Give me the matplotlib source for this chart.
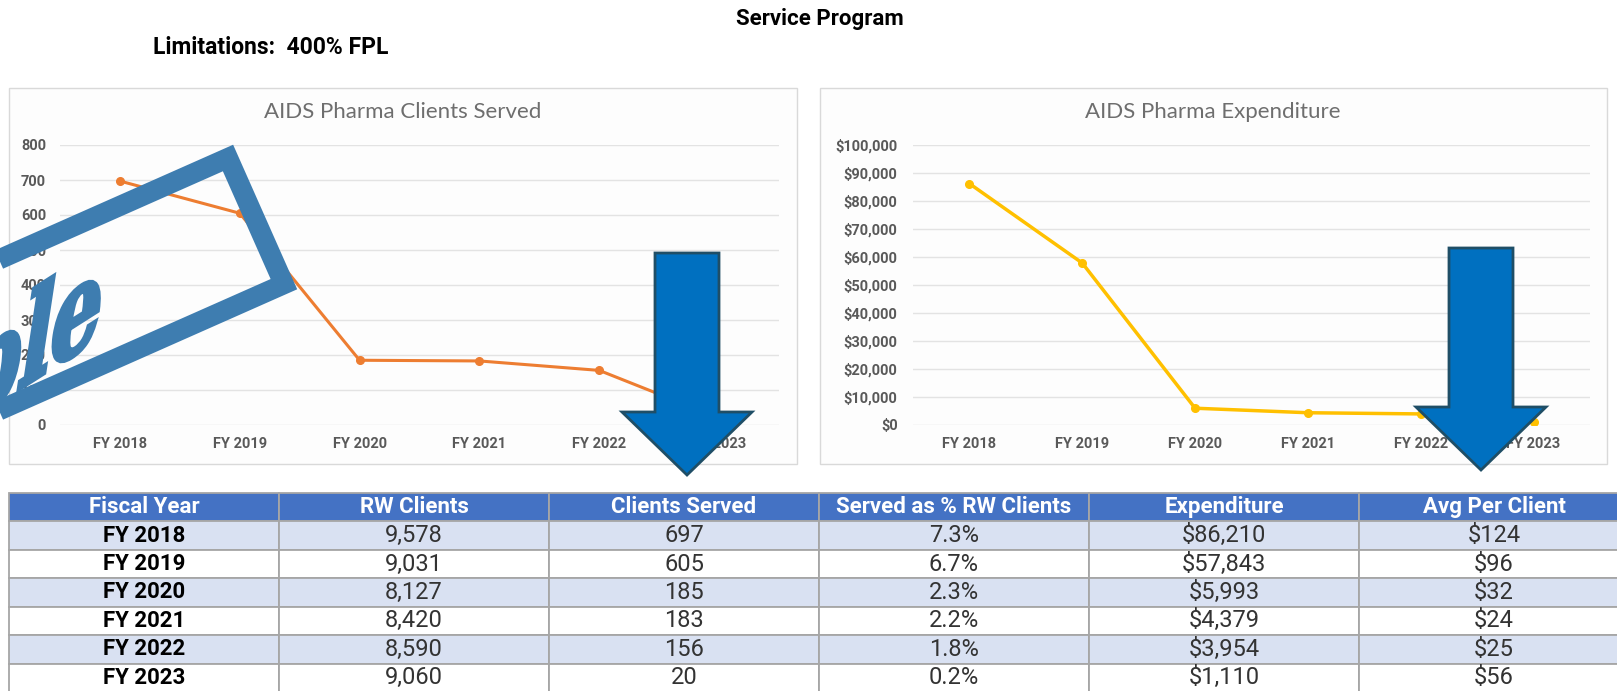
import matplotlib
matplotlib.use("Agg")
import matplotlib.pyplot as plt
from matplotlib import font_manager
from matplotlib.font_manager import FontProperties
from matplotlib.patches import Rectangle, Polygon, FancyArrow, PathPatch
from matplotlib.textpath import TextPath
from matplotlib.transforms import Affine2D
from matplotlib.ticker import FuncFormatter
import numpy as np

# Data
years = ["FY 2018", "FY 2019", "FY 2020", "FY 2021", "FY 2022", "FY 2023"]
rw_clients = [9578, 9031, 8127, 8420, 8590, 9060]
clients_served = [697, 605, 185, 183, 156, 20]
served_pct = [7.3, 6.7, 2.3, 2.2, 1.8, 0.2]
expenditure = [86210, 57843, 5993, 4379, 3954, 1110]
avg_per_client = [124, 96, 32, 24, 25, 56]
col_labels = ["Fiscal Year", "RW Clients", "Clients Served",
              "Served as % RW Clients", "Expenditure", "Avg Per Client"]

W, H = 1617, 691

names = {f.name for f in font_manager.fontManager.ttflist}


def pick(*cands):
    for c in cands:
        if c in names:
            return c
    return "DejaVu Sans"


sans = pick("Roboto", "Open Sans", "DejaVu Sans")
chartfont = pick("Lato", "Roboto", "DejaVu Sans")
stampfont = pick("DejaVu Serif", "Liberation Serif")

fig = plt.figure(figsize=(W / 100, H / 100), dpi=100)
fig.patch.set_facecolor("white")


def px_rect(x0, y0, x1, y1):
    return [x0 / W, 1 - y1 / H, (x1 - x0) / W, (y1 - y0) / H]


# Page titles
fig.text(820 / W, 1 - 19 / H, "Service Program", ha="center", va="center",
         fontsize=16, fontweight="bold", family=sans)
fig.text(153 / W, 1 - 47 / H, "Limitations:  400% FPL", ha="left", va="center",
         fontsize=16.5, fontweight="bold", family=sans)

# Chart frames
for x0, x1 in [(9, 797), (820, 1607)]:
    fig.add_artist(Rectangle((x0 / W, 1 - 464 / H), (x1 - x0) / W, (464 - 88) / H,
                             transform=fig.transFigure, facecolor="#fdfdfd",
                             edgecolor="#d9d9d9", lw=1, zorder=0))

x = np.arange(len(years))


def style_axes(ax, title, cx, ypad):
    ax.set_xlim(-0.5, len(years) - 0.5)
    ax.set_xticks(x)
    ax.set_xticklabels(years)
    ax.set_facecolor("none")
    for s in ax.spines.values():
        s.set_visible(False)
    ax.grid(axis="y", color="#e3e3e3", lw=1)
    ax.set_axisbelow(True)
    ax.tick_params(axis="both", length=0, labelsize=10.5, labelcolor="#595959")
    ax.tick_params(axis="x", pad=9)
    ax.tick_params(axis="y", pad=ypad)
    for lab in ax.get_xticklabels() + ax.get_yticklabels():
        lab.set_fontweight("bold")
        lab.set_family(sans)
    fig.text(cx / W, 1 - 112 / H, title, ha="center", va="center", fontsize=16,
             color="#6e6e6e", family=chartfont)


# Left chart: clients served
ax1 = fig.add_axes(px_rect(60, 145, 779, 425))
ax1.plot(x, clients_served, color="#ED7D31", lw=2.2, marker="o", ms=5.5, zorder=3)
ax1.set_ylim(0, 800)
ax1.set_yticks(np.arange(0, 801, 100))
style_axes(ax1, "AIDS Pharma Clients Served", 403, 10)

# Right chart: expenditure
ax2 = fig.add_axes(px_rect(913, 145, 1590, 425))
ax2.plot(x, expenditure, color="#FFC000", lw=2.5, marker="o", ms=5.5, zorder=3)
ax2.set_ylim(0, 100000)
ax2.set_yticks(np.arange(0, 100001, 10000))
ax2.yaxis.set_major_formatter(FuncFormatter(lambda v, p: f"${v:,.0f}"))
style_axes(ax2, "AIDS Pharma Expenditure", 1213, 11)

# Table
tax = fig.add_axes(px_rect(9, 493, 1629, 692))
tax.axis("off")
cell_text = [[yr, f"{r:,}", f"{c:,}", f"{p:.1f}%", f"${e:,}", f"${a:,}"]
             for yr, r, c, p, e, a in zip(years, rw_clients, clients_served,
                                          served_pct, expenditure, avg_per_client)]
tbl = tax.table(cellText=cell_text, colLabels=col_labels, cellLoc="center",
                bbox=[0, 0, 1, 1])
tbl.auto_set_font_size(False)
for (r, c), cell in tbl.get_celld().items():
    cell.set_edgecolor("#a6a6a6")
    cell.set_linewidth(1.3)
    t = cell.get_text()
    t.set_family(sans)
    if r == 0:
        cell.set_facecolor("#4472C4")
        t.set_color("white")
        t.set_fontweight("bold")
        t.set_fontsize(16)
    else:
        cell.set_facecolor("#D9E1F2" if r % 2 == 1 else "white")
        if c == 0:
            t.set_fontsize(16)
            t.set_fontweight("bold")
            t.set_color("black")
        else:
            t.set_fontsize(17)
            t.set_color("#333333")

# Overlay: sample stamp and arrows
oax = fig.add_axes([0, 0, 1, 1], zorder=10)
oax.set_xlim(0, W)
oax.set_ylim(H, 0)
oax.axis("off")
oax.patch.set_alpha(0)

stamp_col = "#3E7DB0"
theta = np.deg2rad(23.9)
u = np.array([np.cos(theta), -np.sin(theta)])
v = np.array([np.sin(theta), np.cos(theta)])
tr = np.array([228.0, 158.0])
br = tr + 138 * v
tl = tr - 600 * u
bl = tl + 138 * v
oax.add_patch(Polygon([tl, tr, br, bl], closed=True, fill=False,
                      edgecolor=stamp_col, lw=14.5, joinstyle="miter"))

# stamp word, squeezed and skewed like the pasted image
tp = TextPath((0, 0), "Sample", size=1,
              prop=FontProperties(family=stampfont, weight="bold"))
xmax = tp.vertices[:, 0].max()
b_dir = np.array([0.843, -0.537])
up_dir = np.array([0.15, -0.989])
sx, sy = 94, 134
mtx = np.array([[b_dir[0] * sx, up_dir[0] * sy, 93],
                [b_dir[1] * sx, up_dir[1] * sy, 342],
                [0, 0, 1]])
trans = Affine2D().translate(-xmax, 0) + Affine2D(mtx)
oax.add_patch(PathPatch(trans.transform_path(tp), facecolor=stamp_col,
                        edgecolor=stamp_col, lw=3))

for ax_x, top, tip in [(687, 253, 475), (1481, 248, 470)]:
    oax.add_patch(FancyArrow(ax_x, top, 0, tip - top, width=64, head_width=130,
                             head_length=63, length_includes_head=True,
                             facecolor="#0070C0", edgecolor="#1F4E66", lw=2))

fig.savefig("out.png", dpi=100, facecolor="white")
